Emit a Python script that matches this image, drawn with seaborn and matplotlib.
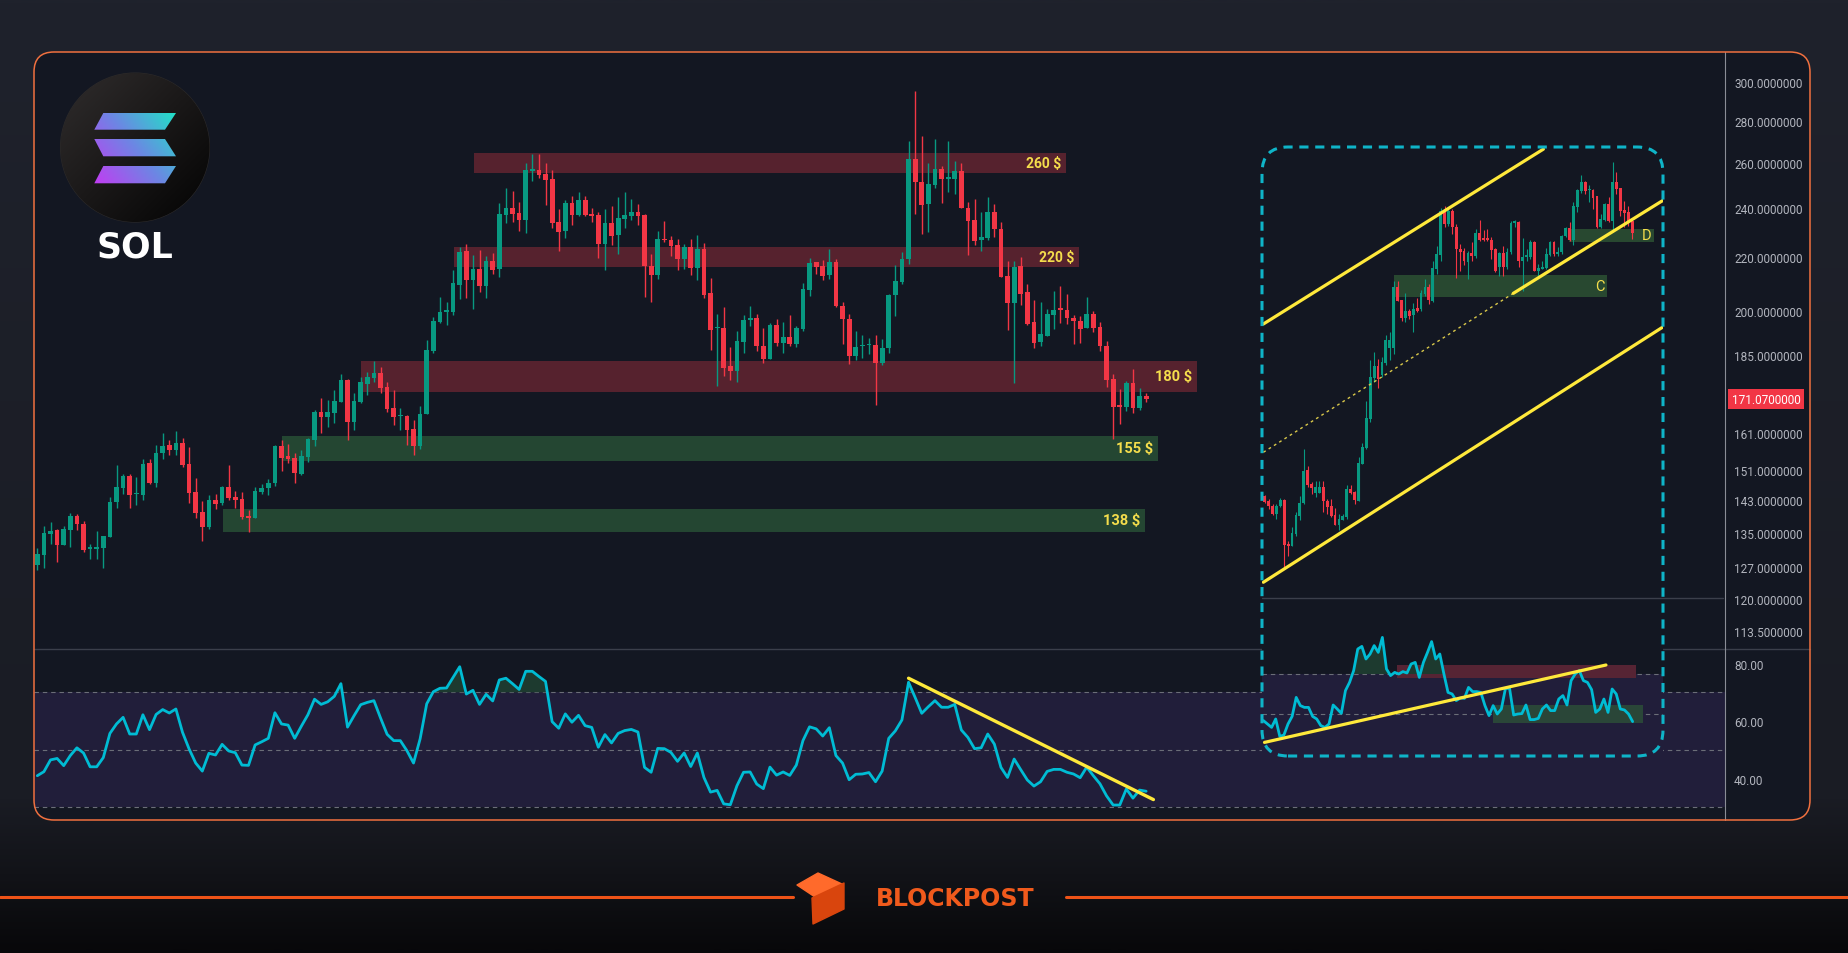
#!/usr/bin/env python3
import numpy as np
import pandas as pd
import matplotlib
matplotlib.use("Agg")
import matplotlib.pyplot as plt
import seaborn as sns
import matplotlib.transforms as mtrans
from matplotlib.patches import FancyBboxPatch, Rectangle, Polygon, Circle
from matplotlib.lines import Line2D
from matplotlib.colors import LinearSegmentedColormap
from matplotlib.ticker import FixedLocator, FixedFormatter, NullLocator

# ==========================================
# DATA - SOL daily candles (main chart)
# ==========================================
sol_open = [
    127.6, 129.9, 134.8, 135.7, 132.2, 135.7, 139.1, 137.2, 131.2, 131.2,
    131.3, 134.1, 142.5, 146.2, 149.3, 144.5, 144.4, 152.8, 147.5, 155.4,
    157.7, 156.3, 158.3, 152.6, 145.1, 140.1, 136.5, 143.0, 142.3, 146.4,
    143.8, 143.3, 139.1, 138.7, 145.1, 146.2, 147.5, 157.4, 154.7, 154.2,
    149.9, 154.4, 159.1, 167.1, 165.7, 166.8, 170.2, 176.9, 164.2, 170.2,
    175.7, 177.6, 179.1, 174.7, 168.4, 165.9, 166.0, 162.2, 157.4, 166.6,
    186.4, 196.1, 199.6, 199.5, 209.4, 222.3, 211.2, 215.4, 208.9, 218.4,
    215.4, 237.0, 239.9, 237.8, 234.9, 256.3, 256.6, 254.9, 252.6, 234.1,
    230.4, 242.1, 236.9, 243.4, 237.1, 236.9, 225.1, 233.7, 228.8, 235.3,
    236.5, 238.2, 236.9, 216.5, 213.2, 226.9, 226.7, 224.7, 219.2, 223.9,
    215.8, 223.1, 206.5, 193.9, 194.1, 181.3, 179.8, 189.3, 196.9, 197.5,
    187.9, 183.6, 195.0, 189.0, 191.0, 188.6, 193.7, 207.5, 218.0, 216.5,
    213.2, 218.0, 201.7, 197.1, 184.6, 187.8, 188.1, 188.3, 182.3, 187.3,
    205.7, 210.5, 219.2, 261.7, 251.3, 241.6, 249.9, 257.1, 252.7, 252.6,
    256.2, 239.9, 234.9, 226.7, 227.5, 238.2, 231.2, 212.7, 202.8, 216.5,
    206.8, 196.1, 189.3, 191.3, 198.6, 200.6, 200.2, 197.5, 196.4, 194.0,
    198.9, 194.3, 187.9, 177.3, 169.0, 168.7, 176.1, 168.4, 172.0]
sol_high = [
    131.4, 136.7, 137.6, 135.9, 136.7, 139.8, 139.6, 137.9, 132.3, 135.4,
    134.3, 143.9, 152.3, 149.9, 149.9, 149.0, 153.9, 153.9, 157.7, 161.1,
    159.1, 161.6, 159.7, 157.1, 148.8, 142.8, 144.4, 144.6, 146.7, 152.3,
    145.4, 145.1, 140.6, 146.4, 147.2, 148.5, 157.7, 159.1, 158.0, 155.5,
    156.3, 159.7, 167.8, 171.4, 170.8, 173.8, 178.8, 177.3, 172.9, 177.9,
    179.5, 183.0, 181.0, 176.4, 173.8, 168.4, 166.3, 164.8, 169.0, 190.0,
    197.8, 204.9, 203.2, 215.0, 223.9, 225.1, 220.8, 222.7, 220.4, 221.5,
    242.1, 248.5, 247.2, 242.5, 259.8, 264.0, 264.0, 259.8, 256.6, 239.5,
    243.4, 245.1, 246.8, 245.1, 239.9, 238.2, 239.5, 240.8, 244.7, 246.8,
    243.8, 241.7, 237.4, 221.1, 230.4, 234.5, 228.3, 227.1, 225.1, 227.1,
    228.7, 225.5, 212.0, 198.9, 201.4, 187.6, 193.0, 198.5, 201.6, 198.9,
    194.0, 195.7, 197.1, 196.0, 198.6, 194.7, 210.1, 219.6, 218.1, 218.8,
    223.1, 219.2, 203.2, 198.8, 193.0, 191.6, 190.6, 191.6, 190.3, 206.1,
    216.9, 221.9, 270.2, 295.2, 272.5, 259.8, 271.1, 258.5, 270.2, 260.8,
    259.8, 242.5, 243.8, 238.2, 244.7, 241.7, 234.1, 218.4, 218.4, 220.0,
    209.6, 203.9, 203.2, 200.6, 207.2, 209.0, 206.0, 198.5, 198.2, 204.9,
    199.9, 196.0, 189.7, 178.8, 174.1, 176.7, 180.4, 174.4, 173.0]
sol_low = [
    126.4, 126.9, 132.3, 128.3, 132.0, 131.7, 135.7, 130.6, 128.9, 128.9,
    126.9, 134.0, 141.1, 144.6, 141.1, 141.8, 143.0, 147.2, 146.4, 153.9,
    155.0, 155.0, 151.7, 142.3, 138.6, 133.0, 136.0, 140.8, 141.8, 143.0,
    141.1, 138.4, 135.2, 138.6, 144.6, 144.4, 146.7, 150.7, 152.8, 147.5,
    149.6, 153.1, 157.4, 161.1, 162.8, 164.0, 170.1, 159.1, 161.9, 169.9,
    172.3, 176.4, 172.9, 167.2, 163.4, 161.9, 157.7, 155.0, 156.6, 166.5,
    185.7, 195.8, 195.1, 198.5, 204.2, 204.6, 200.6, 206.8, 204.6, 213.5,
    212.3, 233.5, 234.0, 230.4, 229.6, 251.7, 253.1, 241.2, 231.6, 222.3,
    227.5, 232.9, 236.5, 236.7, 234.1, 219.6, 215.0, 224.7, 221.1, 231.6,
    234.9, 232.9, 204.9, 203.2, 211.6, 225.9, 220.4, 215.0, 215.4, 213.2,
    211.2, 204.6, 186.6, 175.0, 178.3, 176.9, 176.4, 185.7, 194.7, 186.3,
    182.3, 183.5, 188.0, 185.7, 187.9, 187.6, 193.0, 205.3, 213.5, 211.2,
    211.6, 201.5, 188.6, 181.9, 183.3, 183.9, 185.2, 169.3, 181.6, 185.7,
    198.2, 209.7, 217.3, 237.4, 229.1, 229.9, 248.6, 242.1, 246.8, 246.0,
    239.9, 220.8, 224.7, 222.3, 226.7, 227.7, 212.2, 193.4, 176.1, 202.1,
    195.0, 187.3, 188.0, 191.2, 193.7, 195.7, 195.4, 188.6, 189.0, 193.9,
    192.7, 186.3, 174.7, 159.4, 163.7, 167.5, 166.9, 167.8, 170.1]
sol_close = [
    130.1, 134.9, 135.4, 132.2, 135.9, 139.1, 137.0, 131.0, 131.5, 131.5,
    134.2, 142.5, 146.4, 149.3, 144.4, 144.8, 152.6, 147.5, 155.5, 157.4,
    156.3, 158.3, 152.3, 144.9, 139.9, 136.5, 143.0, 142.0, 146.4, 143.5,
    143.0, 138.9, 138.7, 145.4, 146.2, 147.5, 157.4, 154.2, 153.9, 150.2,
    154.7, 159.4, 167.1, 165.7, 167.1, 170.5, 176.9, 164.2, 170.5, 176.4,
    177.9, 179.1, 174.4, 168.1, 165.7, 166.2, 161.9, 157.4, 166.6, 186.6,
    196.4, 199.5, 199.9, 210.1, 221.9, 211.2, 215.4, 208.9, 218.4, 215.0,
    237.4, 239.9, 237.4, 234.9, 256.6, 256.6, 254.4, 252.2, 233.7, 229.9,
    242.1, 236.9, 243.4, 236.9, 236.7, 225.1, 233.7, 228.4, 235.7, 236.9,
    238.2, 236.5, 216.5, 213.2, 227.1, 226.5, 224.3, 219.2, 223.9, 215.8,
    223.1, 205.7, 193.4, 194.3, 180.7, 179.8, 189.7, 196.8, 197.3, 187.9,
    183.6, 195.0, 189.0, 191.0, 188.6, 194.0, 207.9, 217.7, 216.1, 212.7,
    218.0, 201.7, 197.1, 184.6, 187.6, 188.1, 188.5, 182.3, 187.3, 205.7,
    210.9, 219.2, 261.7, 251.3, 241.2, 250.3, 257.1, 252.6, 253.1, 256.2,
    240.0, 234.5, 226.3, 227.9, 238.2, 231.2, 212.3, 202.8, 216.1, 206.1,
    195.4, 189.0, 191.9, 198.9, 200.2, 200.3, 197.5, 196.4, 193.7, 198.9,
    194.0, 187.9, 177.0, 168.7, 168.8, 176.1, 168.4, 172.0, 171.07]

# RSI(14) under the main chart, one value per candle
rsi_main = [
    41.0, 42.4, 46.5, 47.0, 44.5, 48.0, 50.7, 48.9, 44.1, 44.1,
    47.3, 55.7, 59.0, 61.3, 55.5, 55.5, 62.2, 57.0, 62.3, 64.0,
    62.8, 64.2, 56.1, 50.3, 45.4, 42.6, 48.8, 48.2, 51.9, 49.6,
    49.0, 44.7, 44.6, 51.7, 52.8, 54.0, 62.9, 59.0, 58.6, 54.0,
    58.2, 62.2, 67.6, 65.8, 66.7, 68.6, 73.0, 57.9, 61.9, 65.7,
    66.5, 67.1, 61.1, 55.4, 53.2, 53.2, 49.7, 45.4, 53.8, 66.0,
    70.2, 71.4, 71.5, 75.2, 78.9, 69.4, 70.7, 65.8, 69.3, 67.0,
    74.3, 74.9, 73.0, 71.0, 77.3, 77.3, 75.5, 73.8, 59.8, 57.5,
    62.5, 59.6, 62.0, 58.4, 57.8, 50.9,
    55.3, 52.4, 55.7, 56.7, 57.1, 56.2, 43.9, 42.2, 50.5, 50.4,
    49.1, 46.0, 48.9, 44.2, 48.9, 40.4, 35.3, 35.9, 31.2, 30.9,
    37.5, 42.2, 42.3, 38.1, 36.5, 44.0, 41.2, 42.3, 41.1, 44.7,
    53.2, 58.0, 57.3, 54.8, 57.7, 48.0, 45.4, 39.6, 41.5, 41.6,
    42.1, 38.9, 42.6, 54.0, 56.6, 60.4, 73.5, 68.2, 62.7, 65.0,
    67.1, 64.8, 64.8, 65.8, 56.9, 54.3, 50.4, 50.7, 55.5, 52.0,
    43.9, 40.4, 46.8, 43.1, 39.5, 37.4, 38.9, 42.5, 43.2, 43.2,
    42.2, 41.6, 40.3, 44.0, 41.0, 38.2, 34.0, 30.8, 30.8, 36.4,
    33.2, 36.0, 35.6]
rsi_trend_x = [132, 169.1]
rsi_trend_y = [74.9, 32.7]

# horizontal levels on the main chart
zone_labels = ["260 $", "220 $", "180 $", "155 $", "138 $"]
zone_low = [255.3, 216.1, 173.2, 153.4, 135.2]
zone_high = [264.4, 223.9, 183.0, 160.2, 140.8]
zone_start = [66.2, 63.1, 49.0, 37.1, 28.1]
zone_end = [155.9, 157.8, 175.7, 169.8, 167.8]
zone_kind = ["res", "res", "res", "sup", "sup"]
zone_fontsize = [10, 10, 10.5, 10.5, 10.5]

price_ticks = [113.5, 120, 127, 135, 143, 151, 161, 173, 185, 200, 220, 240, 260, 280, 300]
rsi_ticks = [40, 60, 80]
last_price = 171.07

# ==========================================
# DATA - inset (wider view)
# ==========================================
in_open = [
    144.2, 142.9, 141.7, 139.5, 141.5, 143.2, 132.3, 131.9, 134.7, 139.2,
    142.3, 150.8, 147.2, 144.9, 144.9, 146.4, 142.9, 141.5, 139.4, 136.8,
    138.2, 138.8, 145.9, 145.2, 142.9, 152.5, 156.8, 165.2, 177.6, 181.3,
    178.6, 182.4, 187.2, 187.2, 208.5, 203.7, 197.5, 199.8, 198.5, 200.9,
    200.6, 206.1, 208.5, 203.6, 215.4, 220.8, 238.8, 233.2, 238.8, 232.2,
    223.1, 222.2, 218.2, 221.5, 220.5, 229.5, 227.3, 227.3, 226.8, 223.1,
    216.0, 221.5, 216.0, 221.8, 233.7, 233.9, 218.6, 220.1, 219.9, 226.0,
    214.8, 215.5, 215.7, 220.8, 225.8, 221.2, 221.8, 228.4, 231.5, 226.8,
    240.2, 247.4, 251.4, 247.6, 247.7, 244.9, 231.9, 234.9, 241.6, 234.5,
    251.1, 248.4, 239.2, 238.1, 234.5]
in_high = [
    144.4, 143.3, 142.1, 142.1, 143.6, 143.3, 133.1, 136.4, 140.0, 144.2,
    156.6, 151.9, 147.6, 148.1, 147.9, 148.1, 143.3, 143.3, 141.0, 139.6,
    139.6, 147.0, 146.9, 145.5, 154.3, 158.3, 170.6, 183.4, 185.9, 183.5,
    184.3, 191.7, 192.5, 211.0, 211.0, 204.0, 206.5, 200.6, 202.8, 204.5,
    207.7, 211.6, 209.7, 218.3, 224.2, 239.8, 240.9, 239.5, 239.5, 233.2,
    225.1, 223.5, 222.5, 226.0, 231.2, 235.0, 230.8, 231.2, 227.8, 223.5,
    222.1, 224.2, 223.4, 234.5, 234.8, 234.5, 227.4, 223.1, 226.8, 226.4,
    217.3, 218.6, 223.4, 226.4, 226.4, 223.8, 228.7, 231.9, 233.9, 242.3,
    248.1, 254.2, 251.8, 249.7, 248.1, 245.2, 237.4, 241.9, 244.5, 260.2,
    255.6, 248.8, 243.1, 240.6, 234.8]
in_low = [
    142.4, 140.9, 139.4, 138.4, 141.4, 126.6, 129.5, 131.8, 134.3, 138.0,
    142.1, 146.4, 144.6, 143.8, 144.8, 140.0, 139.6, 138.8, 136.8, 135.8,
    138.0, 138.4, 144.6, 142.0, 142.8, 152.4, 156.6, 164.2, 176.3, 174.4,
    177.8, 181.6, 183.2, 185.3, 203.4, 196.3, 196.0, 197.2, 192.6, 199.7,
    199.8, 205.5, 202.6, 203.0, 213.4, 218.6, 231.9, 232.5, 229.1, 211.8,
    214.8, 216.9, 211.5, 218.6, 219.8, 226.4, 226.4, 226.4, 219.2, 214.4,
    212.8, 212.6, 215.4, 221.2, 232.0, 216.3, 207.3, 218.6, 219.2, 214.6,
    212.2, 215.2, 215.4, 220.2, 220.5, 220.5, 221.2, 228.0, 226.4, 224.8,
    238.4, 246.6, 246.0, 242.3, 239.4, 231.5, 231.5, 234.5, 234.1, 229.8,
    246.0, 236.7, 231.9, 232.5, 227.1]
in_close = [
    142.7, 141.5, 139.5, 141.7, 143.1, 132.1, 131.8, 134.9, 139.4, 142.4,
    150.6, 147.0, 146.1, 146.4, 146.4, 142.9, 141.3, 139.2, 136.9, 138.4,
    139.2, 145.9, 144.9, 143.1, 152.8, 157.1, 165.4, 177.8, 181.3, 177.3,
    182.6, 190.0, 190.0, 208.5, 203.6, 197.5, 199.8, 198.3, 200.8, 199.8,
    206.5, 208.5, 203.8, 215.8, 221.2, 238.8, 233.2, 238.5, 232.2, 223.1,
    222.1, 218.6, 221.4, 220.5, 229.5, 226.8, 226.9, 226.9, 222.8, 214.8,
    221.5, 216.0, 221.8, 233.6, 233.9, 218.6, 219.9, 220.3, 225.8, 214.8,
    215.7, 216.1, 221.2, 225.8, 221.2, 221.8, 228.4, 231.5, 226.8, 240.6,
    247.7, 251.4, 247.4, 247.8, 244.1, 231.9, 235.3, 241.6, 234.5, 251.1,
    248.1, 238.8, 237.8, 234.5, 229.4]

# channel lines in the inset: ([x0, x1], [y0, y1])
chan_upper = ([-0.34, 71.3], [195.4, 266.3])
chan_mid = ([63.6, 101.8], [206.3, 243.1])
chan_mid_ext = ([-0.34, 63.6], [155.7, 206.3])
chan_lower = ([-0.34, 101.8], [123.7, 194.3])

in_zone_labels = ["C", "D"]
in_zone_low = [205.1, 226.1]
in_zone_high = [213.1, 231.2]
in_zone_start = [33.1, 77.9]
in_zone_end = [87.5, 99.6]

rsi_inset = [
    46.7, 45.0, 43.3, 47.5, 38.8, 39.5, 45.0, 48.8, 58.3, 54.2,
    53.3, 53.3, 48.8, 47.5, 44.2, 43.3, 45.0, 54.5, 52.5, 50.3,
    61.7, 65.8, 71.7, 82.5, 83.8, 77.5, 80.0, 84.2, 80.8, 88.3,
    72.5, 69.2, 70.8, 70.0, 71.2, 70.5, 75.0, 75.8, 68.3, 75.8,
    80.8, 86.2, 77.5, 80.0, 70.0, 60.8, 60.0, 56.7, 58.0, 57.8,
    63.3, 61.2, 61.2, 60.8, 54.2, 49.2, 54.2, 50.0, 52.5, 62.8,
    62.8, 49.5, 50.0, 50.2, 54.5, 47.2, 47.2, 47.8, 52.5, 54.5,
    51.7, 51.7, 57.5, 59.2, 54.5, 66.7, 70.0, 71.7, 66.7, 65.8,
    62.2, 50.8, 52.5, 57.5, 50.8, 62.5, 60.0, 52.5, 52.0, 50.0,
    46.2]
rsi_inset_trend_x = [0.27, 83.5]
rsi_inset_trend_y = [35.8, 74.5]
rsi_inset_box_x = [(32.6, 90.8), (56.0, 92.6)]
rsi_inset_box_y = [(67.9, 74.5), (45.5, 54.5)]

# ==========================================
# STYLE
# ==========================================
W, H = 1848, 954
BG = "#131722"
UP = "#089981"
DOWN = "#f23645"
CYAN = "#00bcd4"
YELLOW = "#ffe93b"
LABEL_Y = "#f4dd4c"
ORANGE = "#ee5317"
BAND = "#211e3a"
RES_ZONE = "#56222e"
SUP_ZONE = "#244632"
TICK_C = "#b2b5be"


def rect(x0, y0, x1, y1):
    # pixel box (top-left origin) -> figure fraction
    return [x0 / W, 1 - y1 / H, (x1 - x0) / W, (y1 - y0) / H]


def draw_candles(ax, o, h, l, c, width, wick):
    o, h, l, c = map(np.asarray, (o, h, l, c))
    x = np.arange(len(o))
    col = np.where(c >= o, UP, DOWN)
    ax.vlines(x, l, h, colors=col, lw=wick, zorder=3)
    lo = np.minimum(o, c)
    hi = np.maximum(np.maximum(o, c), lo * 1.003)
    ax.bar(x, hi - lo, bottom=lo, width=width, color=col, lw=0, zorder=4)


def clean(ax):
    for s in ax.spines.values():
        s.set_visible(False)
    ax.set_xlabel("")
    ax.set_ylabel("")
    ax.tick_params(axis="x", length=0, labelbottom=False)


def main():
    sns.set_theme(style="dark", rc={"axes.facecolor": BG, "figure.facecolor": BG})
    plt.rcParams["font.family"] = ["Roboto", "DejaVu Sans"]

    fig = plt.figure(figsize=(W / 100, H / 100), dpi=100)
    ident = mtrans.IdentityTransform()

    def pbox(x0, y0, x1, y1, r, **kw):
        return FancyBboxPatch((x0, H - y1), x1 - x0, y1 - y0,
                              boxstyle=f"round,pad=0,rounding_size={r}",
                              transform=ident, **kw)

    # page background
    ax_bg = fig.add_axes([0, 0, 1, 1], zorder=0)
    bg_cmap = LinearSegmentedColormap.from_list(
        "bg", [(0, "#1f222c"), (0.84, "#1a1c24"), (0.92, "#121318"), (1, "#08080a")])
    ax_bg.imshow(np.linspace(0, 1, 400)[:, None], aspect="auto", cmap=bg_cmap,
                 extent=(0, 1, 0, 1))
    ax_bg.axis("off")

    fig.add_artist(pbox(34, 53, 1810, 821, 20, fc=BG, ec="none", zorder=0.5))

    # ---------------- main price pane ----------------
    ax = fig.add_axes(rect(34, 53, 1725, 650), zorder=1)
    ax.set_facecolor("none")
    ax.set_yscale("log")
    for lab, lo, hi, x0, x1, kind, fs in zip(zone_labels, zone_low, zone_high,
                                              zone_start, zone_end, zone_kind, zone_fontsize):
        ax.add_patch(Rectangle((x0, lo), x1 - x0, hi - lo, lw=0, zorder=1,
                               color=RES_ZONE if kind == "res" else SUP_ZONE))
        ax.text(x1 - 0.7, np.sqrt(lo * hi), lab, ha="right", va="center",
                color=LABEL_Y, fontsize=fs, fontweight="bold", zorder=6)
    draw_candles(ax, sol_open, sol_high, sol_low, sol_close, 0.72, 1.0)
    ax.set_xlim(-0.5, 255.7)
    ax.set_ylim(109.9, 316.2)
    ax.yaxis.set_major_locator(FixedLocator(price_ticks))
    ax.yaxis.set_major_formatter(FixedFormatter([f"{t:.7f}" for t in price_ticks]))
    ax.yaxis.set_minor_locator(NullLocator())
    ax.yaxis.tick_right()
    ax.tick_params(axis="y", length=0, pad=6.5, labelsize=8.5, labelcolor=TICK_C)
    clean(ax)
    ax.grid(False)
    # last price tag (covers the 173 label, like on the original chart)
    tag_tr = mtrans.blended_transform_factory(ax.transAxes, ax.transData)
    ax.text(1.0040, last_price, f"{last_price:.7f}", transform=tag_tr, ha="left",
            va="center", color="white", fontsize=8.5, zorder=10, clip_on=False,
            bbox=dict(boxstyle="square,pad=0.28", fc=DOWN, ec="none"))

    # ---------------- main RSI pane ----------------
    ax_r = fig.add_axes(rect(34, 650, 1725, 821), zorder=1)
    ax_r.set_facecolor("none")
    ax_r.axhspan(30, 70, color=BAND, lw=0, zorder=0)
    for lvl in (70, 50, 30):
        ax_r.axhline(lvl, color="#6b6e78", lw=0.8, ls=(0, (4, 3.5)), zorder=1)
    xs = np.arange(len(rsi_main))
    rv = np.asarray(rsi_main)
    ax_r.fill_between(xs, rv, 70, where=rv > 70, interpolate=True,
                      color="#1d3a2f", lw=0, zorder=2)
    sns.lineplot(x=xs, y=rv, ax=ax_r, color=CYAN, linewidth=2.0, zorder=4)
    sns.lineplot(x=rsi_trend_x, y=rsi_trend_y, ax=ax_r, color=YELLOW,
                 linewidth=2.4, zorder=5, solid_capstyle="round")
    ax_r.set_xlim(-0.5, 255.7)
    ax_r.set_ylim(25.6, 85.06)
    ax_r.yaxis.set_major_locator(FixedLocator(rsi_ticks))
    ax_r.yaxis.set_major_formatter(FixedFormatter([f"{t:.2f}" for t in rsi_ticks]))
    ax_r.yaxis.tick_right()
    ax_r.tick_params(axis="y", length=0, pad=6.5, labelsize=8.5, labelcolor=TICK_C)
    clean(ax_r)
    ax_r.grid(False)

    # separators
    fig.add_artist(Line2D([34 / W, 1810 / W], [1 - 650 / H] * 2, color="#3b3f4b",
                          lw=1, zorder=1.5))
    fig.add_artist(Line2D([1725 / W] * 2, [1 - 53 / H, 1 - 821 / H], color="#8a8d96",
                          lw=0.8, zorder=1.5))

    # ---------------- inset: price ----------------
    ax_i = fig.add_axes(rect(1262, 148, 1663, 599), zorder=3)
    ax_i.set_facecolor(BG)
    ax_i.set_yscale("log")
    for lab, lo, hi, x0, x1 in zip(in_zone_labels, in_zone_low, in_zone_high,
                                    in_zone_start, in_zone_end):
        ax_i.add_patch(Rectangle((x0, lo), x1 - x0, hi - lo, color="#284830", lw=0,
                                 zorder=1))
        ax_i.text(x1 - 1.8, np.sqrt(lo * hi), lab, ha="center", va="center",
                  color=LABEL_Y, fontsize=10.5, zorder=7)
    draw_candles(ax_i, in_open, in_high, in_low, in_close, 0.72, 0.8)
    for cx, cy in (chan_upper, chan_mid, chan_lower):
        sns.lineplot(x=cx, y=cy, ax=ax_i, color=YELLOW, linewidth=2.3, zorder=6,
                     solid_capstyle="round")
    sns.lineplot(x=chan_mid_ext[0], y=chan_mid_ext[1], ax=ax_i, color="#d9c84a",
                 linewidth=1.0, linestyle=(0, (2, 2.5)), zorder=5)
    ax_i.set_xlim(-0.69, 101.9)
    ax_i.set_ylim(120.3, 267.3)
    ax_i.yaxis.set_minor_locator(NullLocator())
    ax_i.set_yticks([])
    clean(ax_i)
    ax_i.grid(False)

    # ---------------- inset: RSI ----------------
    ax_ir = fig.add_axes(rect(1262, 599, 1663, 757), zorder=3)
    ax_ir.set_facecolor(BG)
    ax_ir.axhspan(29, 70, color=BAND, lw=0, zorder=0)
    for lvl in (70, 50):
        ax_ir.axhline(lvl, color="#6b6e78", lw=0.8, ls=(0, (4, 3.5)), zorder=1)
    for (bx0, bx1), (by0, by1), colr in zip(rsi_inset_box_x, rsi_inset_box_y,
                                            ["#562434", "#2a4638"]):
        ax_ir.add_patch(Rectangle((bx0, by0), bx1 - bx0, by1 - by0, color=colr,
                                  lw=0, zorder=1.5))
    xi = np.arange(len(rsi_inset))
    ri = np.asarray(rsi_inset)
    ax_ir.fill_between(xi, ri, 70, where=ri > 70, interpolate=True,
                       color="#1d3a2f", lw=0, zorder=2)
    sns.lineplot(x=xi, y=ri, ax=ax_ir, color=CYAN, linewidth=2.0, zorder=4)
    sns.lineplot(x=rsi_inset_trend_x, y=rsi_inset_trend_y, ax=ax_ir, color=YELLOW,
                 linewidth=2.3, zorder=5, solid_capstyle="round")
    ax_ir.set_xlim(-0.34, 97.4)
    ax_ir.set_ylim(29, 108)
    ax_ir.set_yticks([])
    clean(ax_ir)
    ax_ir.grid(False)

    fig.add_artist(Line2D([1262 / W, 1723 / W], [1 - 599 / H] * 2, color="#3b3f4b",
                          lw=1, zorder=4))
    fig.add_artist(pbox(1262, 148, 1663, 757, 26, fc="none", ec="#0fb4c8", lw=2.2,
                        ls=(0, (3.0, 2.2)), zorder=5))

    # frame border on top
    fig.add_artist(pbox(34, 53, 1810, 821, 20, fc="none", ec="#f0703f", lw=1.1,
                        zorder=6))

    # ---------------- SOL logo ----------------
    ax_l = fig.add_axes(rect(58, 72, 212, 226), zorder=2)
    ax_l.set_xlim(58, 212)
    ax_l.set_ylim(226, 72)
    ax_l.axis("off")
    circ = Circle((135, 148.5), 74.5, fc="none", ec="#2c2a2a", lw=0.8)
    ax_l.add_patch(circ)
    gx, gy = np.meshgrid(np.linspace(0, 1, 120), np.linspace(0, 1, 120))
    dark = LinearSegmentedColormap.from_list("d", ["#302d2d", "#1a1818", "#030303"])
    im = ax_l.imshow(gx * 0.5 + gy * 0.5, cmap=dark, extent=(60, 210, 224, 73),
                     aspect="auto", zorder=1)
    im.set_clip_path(circ)
    sol_cmap = LinearSegmentedColormap.from_list("sol", ["#c23cf2", "#6d86e4", "#1fe3c6"])
    bars = [
        [(103.3, 114), (176, 114), (165, 130.7), (94.3, 130.7)],
        [(94.3, 140), (165, 140), (176, 157.3), (103.3, 157.3)],
        [(103.3, 167), (176, 167), (165, 184.3), (94.3, 184.3)],
    ]
    grad = gx * 0.6 + (1 - gy) * 0.4
    for pts in bars:
        poly = Polygon(pts, closed=True, fc="none", ec="none")
        ax_l.add_patch(poly)
        bim = ax_l.imshow(grad, cmap=sol_cmap, extent=(94, 177, 185, 113),
                          aspect="auto", zorder=2)
        bim.set_clip_path(poly)
    fig.text(135 / W, 1 - 248 / H, "SOL", ha="center", va="center", fontsize=25,
             fontweight="bold", color="white", family="DejaVu Sans")

    # ---------------- footer ----------------
    fig.add_artist(Line2D([0, 793 / W], [1 - 898 / H] * 2, color=ORANGE, lw=2.2))
    fig.add_artist(Line2D([1066 / W, 1], [1 - 898 / H] * 2, color=ORANGE, lw=2.2))
    top_face = [(797, 886), (818, 874), (842, 885), (815, 898)]
    side_face = [(812, 899), (844, 884), (844, 910), (813, 925)]
    fig.add_artist(Polygon([(x, H - y) for x, y in top_face], closed=True,
                           fc="#ff6a2b", ec="#ff6a2b", lw=1, joinstyle="round",
                           transform=ident, zorder=3))
    fig.add_artist(Polygon([(x, H - y) for x, y in side_face], closed=True,
                           fc="#d9450d", ec="#d9450d", lw=1, joinstyle="round",
                           transform=ident, zorder=3))
    fig.text(955 / W, 1 - 899 / H, "BLOCKPOST", ha="center", va="center",
             fontsize=17, fontweight="bold", color="#f05a1c", family="DejaVu Sans")

    fig.savefig("out.png", dpi=100, facecolor=fig.get_facecolor())


if __name__ == "__main__":
    main()
